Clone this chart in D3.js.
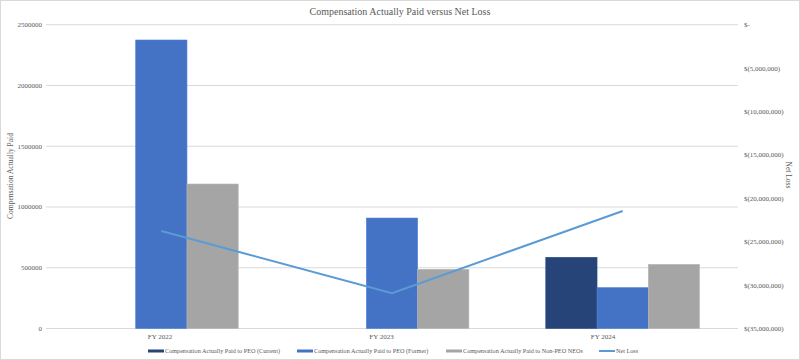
<!DOCTYPE html>
<html><head><meta charset="utf-8">
<script src="https://cdn.jsdelivr.net/npm/d3@7"></script>
<style>body{margin:0;background:#fff}svg{display:block}text{font-family:"Liberation Serif","Times New Roman",serif;fill:#595959}</style>
</head><body><svg id="c" width="800" height="360"></svg>
<script>
const categories = ["FY 2022", "FY 2023", "FY 2024"];
const seriesNames = ["Compensation Actually Paid to PEO (Current)", "Compensation Actually Paid to PEO (Former)", "Compensation Actually Paid to Non-PEO NEOs"];
const peoCurrent = [0, 0, 586000];
const peoFormer = [2374000, 909000, 336000];
const nonPeo = [1189000, 487000, 528000];
const netLoss = [-23770000, -30940000, -21460000];
const leftTicks = [0, 500000, 1000000, 1500000, 2000000, 2500000];
const rightTicks = [0, -5000000, -10000000, -15000000, -20000000, -25000000, -30000000, -35000000];
const colors = ["#264478", "#4472C4", "#A5A5A5"];
const lineColor = "#5B9BD5";

const svg = d3.select("#c");
svg.append("rect").attr("x",0.5).attr("y",0.5).attr("width",799).attr("height",359).attr("fill","#fff").attr("stroke","#d9d9d9");

const L = 46, R = 738, T = 24.7, B = 328.5;
const x = d3.scaleBand().domain(categories).range([L, R]).paddingInner(0).paddingOuter(0);
// group occupies 3 bars, gap 1.5 bars -> 0.75 bar each side
const xs = d3.scaleBand().domain([0,1,2]).range([x.bandwidth()*0.75/4.5, x.bandwidth()*3.75/4.5]).padding(0);
const y = d3.scaleLinear().domain([0, 2500000]).range([B, T]);
const y2 = d3.scaleLinear().domain([-35000000, 0]).range([B, T]);
const xl = d3.scalePoint().domain(categories).range([160, 603]);

// gridlines
svg.append("g").selectAll("line").data(leftTicks).join("line")
  .attr("x1", L).attr("x2", R).attr("y1", d=>y(d)).attr("y2", d=>y(d))
  .attr("stroke", "#d9d9d9").attr("stroke-width", 1);

// bars
const series = [peoCurrent, peoFormer, nonPeo];
series.forEach((vals, si) => {
  svg.append("g").selectAll("rect").data(vals).join("rect")
    .attr("x", (d,i)=> x(categories[i]) + xs(si))
    .attr("width", xs.bandwidth())
    .attr("y", d=>y(d)).attr("height", d=>B - y(d))
    .attr("fill", colors[si]).attr("stroke", d3.color(colors[si]).brighter(0.3)).attr("stroke-width",0.6);
});

// line
svg.append("path").datum(netLoss)
  .attr("d", d3.line().x((d,i)=>x(categories[i]) + x.bandwidth()/2).y(d=>y2(d)))
  .attr("fill","none").attr("stroke", lineColor).attr("stroke-width", 2);

// left axis labels
svg.append("g").selectAll("text").data(leftTicks).join("text")
  .attr("x", 42).attr("y", d=>y(d)).attr("dy","0.35em").attr("text-anchor","end")
  .attr("font-size", 7).text(d=>d);
// right axis labels
const fmt = d => d === 0 ? "$-" : "$(" + d3.format(",")(-d) + ")";
svg.append("g").selectAll("text").data(rightTicks).join("text")
  .attr("x", 744).attr("y", d=>y2(d)).attr("dy","0.35em").attr("text-anchor","start")
  .attr("font-size", 7).text(fmt);
// category labels
svg.append("g").selectAll("text").data(categories).join("text")
  .attr("x", d=>xl(d)).attr("y", 339).attr("text-anchor","middle")
  .attr("font-size", 7).text(d=>d);

// title
svg.append("text").attr("x", 400).attr("y", 15).attr("text-anchor","middle")
  .attr("font-size", 10).text("Compensation Actually Paid versus Net Loss");
// axis titles
svg.append("text").attr("transform","translate(13,176) rotate(-90)").attr("text-anchor","middle")
  .attr("font-size", 7.5).text("Compensation Actually Paid");
svg.append("text").attr("transform","translate(786,175) rotate(90)").attr("text-anchor","middle")
  .attr("font-size", 7.5).text("Net Loss");

// legend
const legend = [
  {name: seriesNames[0], color: colors[0], type:"bar", x:148},
  {name: seriesNames[1], color: colors[1], type:"bar", x:297},
  {name: seriesNames[2], color: colors[2], type:"bar", x:446},
  {name: "Net Loss", color: lineColor, type:"line", x:599}
];
const lg = svg.append("g").selectAll("g").data(legend).join("g")
  .attr("transform", d=>`translate(${d.x},351)`);
lg.append("rect").attr("x",0).attr("y",d=>d.type==="bar"?-1.5:-1).attr("width",16).attr("height",d=>d.type==="bar"?3:2).attr("fill",d=>d.color);
lg.append("text").attr("x",17).attr("y",0).attr("dy","0.35em").attr("font-size",6.2).text(d=>d.name);
</script></body></html>
